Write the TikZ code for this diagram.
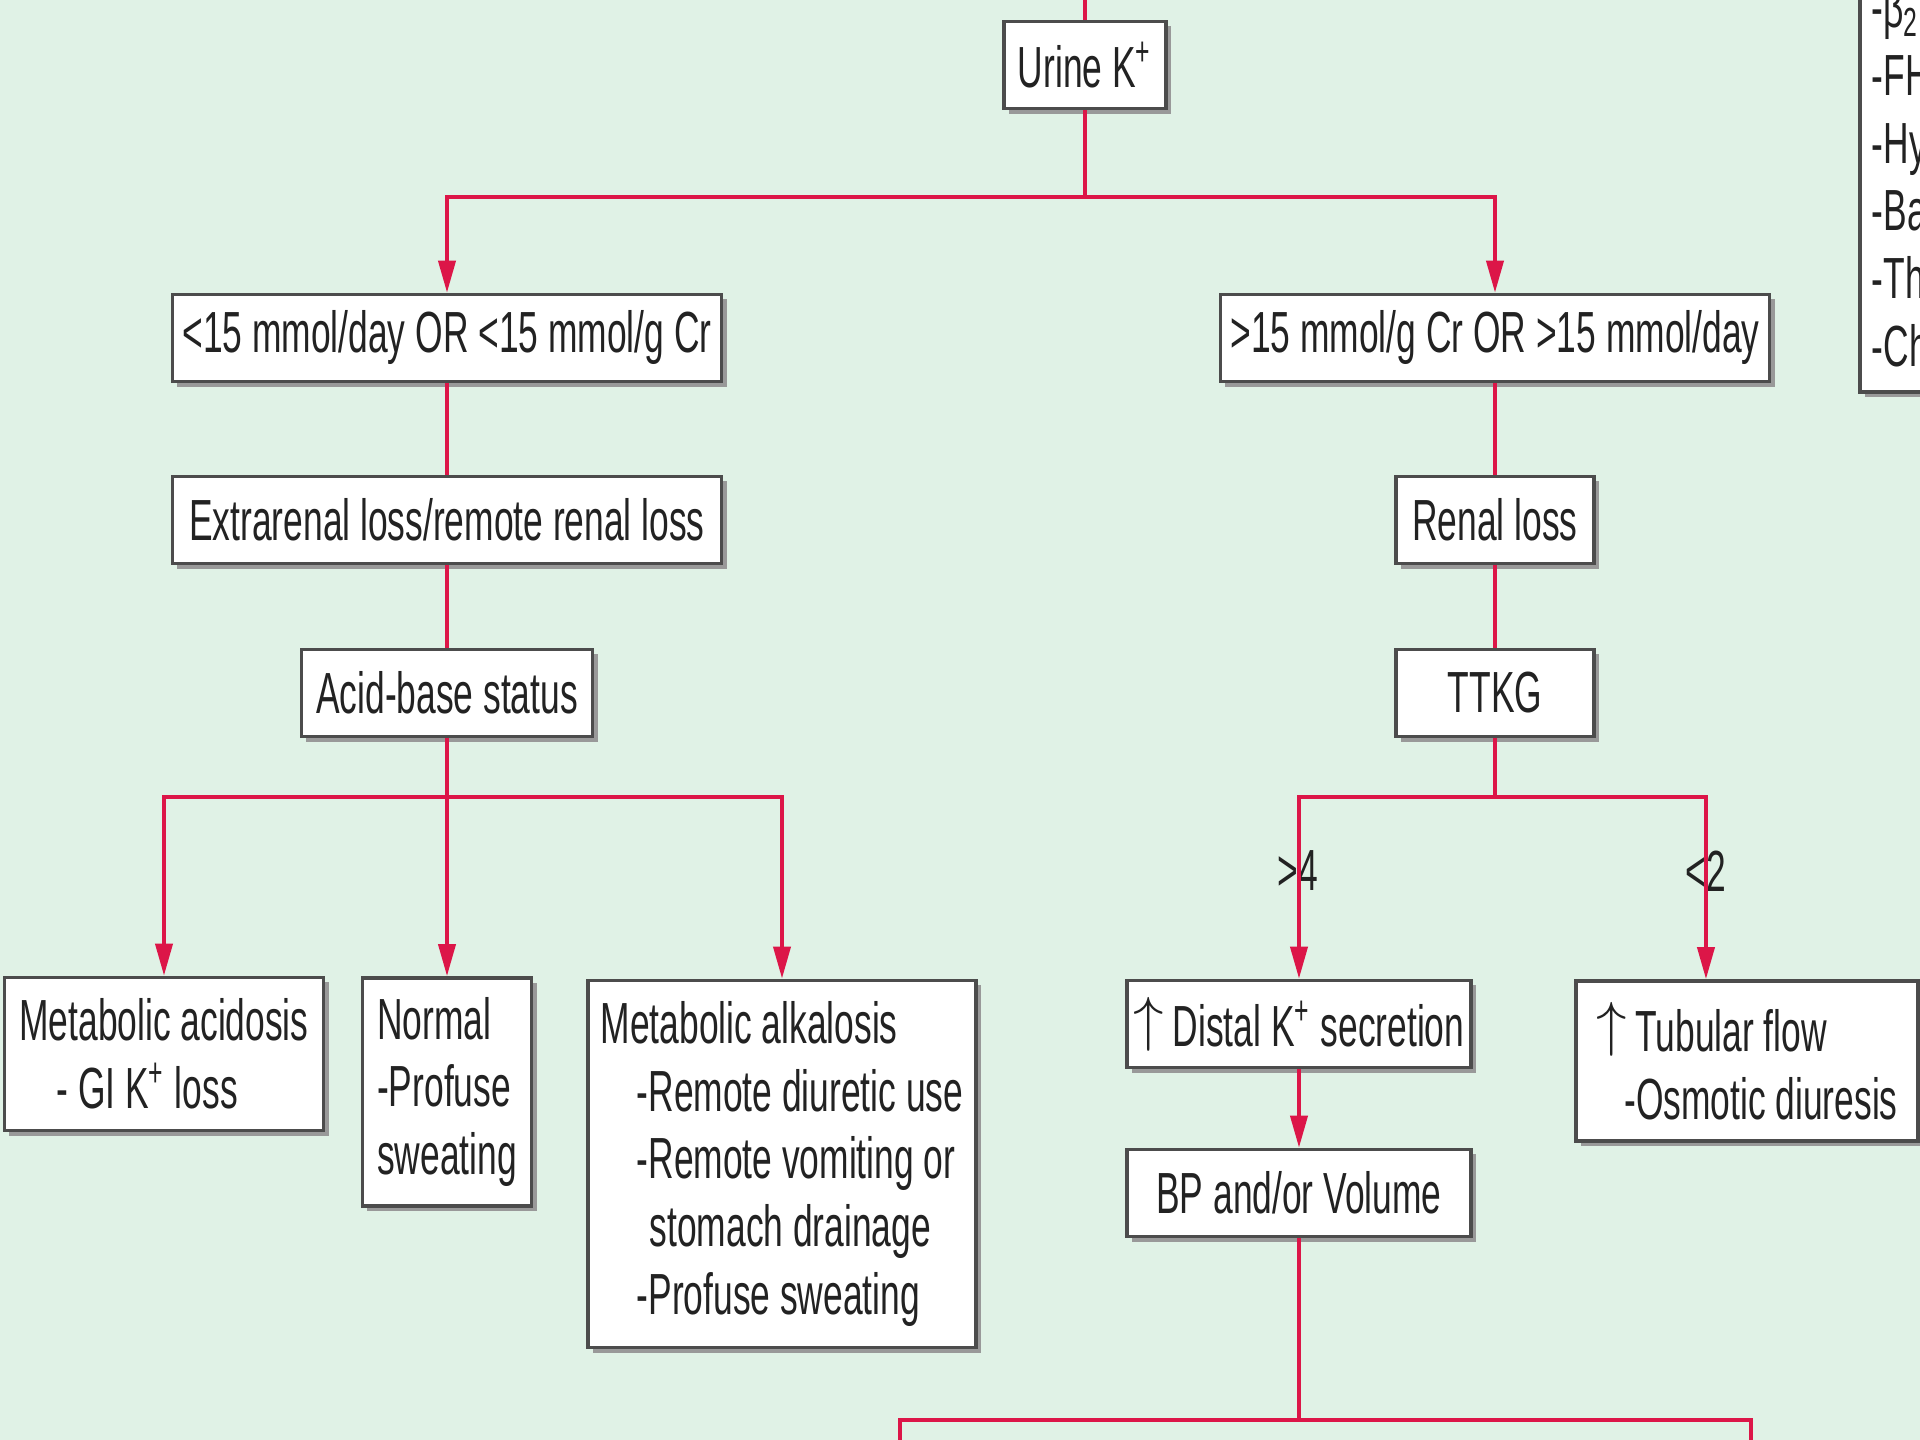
\documentclass[tikz,border=0pt]{standalone}
\usepackage{fontspec}
\setmainfont{Liberation Sans}[FakeStretch=0.61]
\usetikzlibrary{arrows.meta, shadows, positioning}
\definecolor{bgmint}{RGB}{224,242,230}
\definecolor{flowred}{RGB}{220,22,72}
\definecolor{inkgray}{RGB}{34,34,34}
\newcommand{\uparr}{\raisebox{0.12em}{$\uparrow$}\hspace{0.15em}}

\begin{document}
\begin{tikzpicture}[x=0.01cm, y=-0.01cm,
    every node/.style={font=\fontsize{16.5pt}{19.3pt}\selectfont, text=inkgray},
    box/.style={draw=black!70, line width=1pt, fill=white, align=left, inner sep=0pt,
      minimum height=0.87cm,
      drop shadow={shadow xshift=0.05cm, shadow yshift=-0.05cm, fill=black!40, opacity=1}},
    link/.style={draw=flowred, line width=1.1pt},
    arr/.style={link, -{Triangle[length=0.32cm, width=0.17cm]}}]

  \useasboundingbox (0,0) rectangle (1920,1440);
  \clip (0,0) rectangle (1920,1440);
  \fill[bgmint] (0,0) rectangle (1920,1440);

  % boxes
  \node[box, minimum width=1.62cm] (urine) at (1085,65) {Urine K\textsuperscript{+}};
  \node[box, minimum width=5.49cm] (low) at (447,338) {<15 mmol/day OR <15 mmol/g Cr};
  \node[box, minimum width=5.49cm] (high) at (1495,338) {>15 mmol/g Cr OR >15 mmol/day};
  \node[box, minimum width=5.49cm] (extra) at (447,520) {Extrarenal loss/remote renal loss};
  \node[box, minimum width=1.98cm] (renal) at (1495,520) {Renal loss};
  \node[box, minimum width=2.91cm] (acidbase) at (447,693) {Acid-base status};
  \node[box, minimum width=1.98cm] (ttkg) at (1495,693) {TTKG};

  \node[box, minimum width=3.19cm, minimum height=1.53cm] (acidosis) at (164,1054)
    {Metabolic acidosis\\\hspace*{0.37cm}- GI K\textsuperscript{+} loss};
  \node[box, minimum width=1.69cm, minimum height=2.28cm] (normal) at (447,1092)
    {Normal\\-Profuse\\sweating};
  \node[box, minimum width=3.88cm, minimum height=3.67cm] (alkalosis) at (782,1164)
    {Metabolic alkalosis\\\hspace*{0.36cm}-Remote diuretic use\\\hspace*{0.36cm}-Remote vomiting or\\\hspace*{0.49cm}stomach drainage\\\hspace*{0.36cm}-Profuse sweating};
  \node[box, minimum width=3.44cm] (distal) at (1299,1024) {\uparr Distal K\textsuperscript{+} secretion};
  \node[box, minimum width=3.42cm, minimum height=1.60cm] (tubular) at (1747,1061)
    {\uparr Tubular flow\\\hspace*{0.28cm}-Osmotic diuresis};
  \node[box, minimum width=3.44cm] (bp) at (1299,1193) {BP and/or Volume};
  \node[box, anchor=south west, text width=2cm, inner xsep=0.12cm, inner ysep=0.25cm] (causes) at (1858,394)
    {-β\textsubscript{2}\\-FH\\-Hy\\-Ba\\-Th\\-Ch};

  % TTKG cut-offs
  \node (gt4) at (1298,871) {>4};
  \node (lt2) at (1706,871) {<2};

  % connectors
  \coordinate (topend) at (1085,-20);
  \coordinate (fork1) at (1085,197);
  \coordinate (fork2) at (447,797);
  \coordinate (fork3) at (1495,797);
  \coordinate (fork4) at (1299,1420);
  \coordinate (outL) at (900,1460);
  \coordinate (outR) at (1751,1460);

  \draw[link] (topend) -- (urine);
  \draw[link] (urine) -- (fork1);
  \draw[arr] (fork1) -| (low);
  \draw[arr] (fork1) -| (high);
  \draw[link] (low) -- (extra);
  \draw[link] (extra) -- (acidbase);
  \draw[link] (acidbase) -- (fork2);
  \draw[arr] (fork2) -| (acidosis);
  \draw[arr] (fork2) -- (normal);
  \draw[arr] (fork2) -| (alkalosis);
  \draw[link] (high) -- (renal);
  \draw[link] (renal) -- (ttkg);
  \draw[link] (ttkg) -- (fork3);
  \draw[arr] (fork3) -| (distal);
  \draw[arr] (fork3) -| ([xshift=-0.41cm]tubular.north);
  \draw[arr] (distal) -- (bp);
  \draw[link] (bp) -- (fork4);
  \draw[link] (outL) |- (fork4) -| (outR);
\end{tikzpicture}
\end{document}
